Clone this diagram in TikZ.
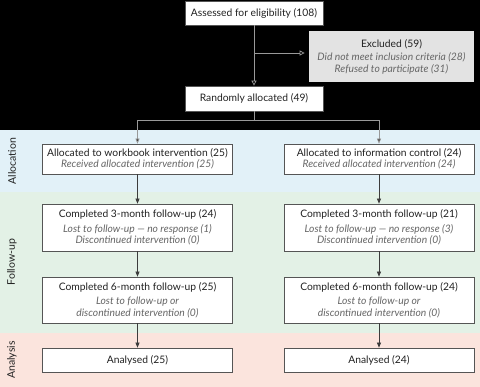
\documentclass[tikz,border=0pt]{standalone}
\usepackage{fontspec}
\setmainfont{Lato}
\usepackage{xcolor}
\usepackage{tikz}
\usetikzlibrary{arrows.meta,positioning,calc}

\definecolor{bandblue}{HTML}{E2F1F8}
\definecolor{bandgreen}{HTML}{E3F1E6}
\definecolor{bandpink}{HTML}{FBE4DD}
\definecolor{exclgray}{HTML}{E3E3E3}
\definecolor{boxline}{HTML}{555555}
\definecolor{txtmain}{HTML}{222222}
\definecolor{txtsub}{HTML}{666666}

\begin{document}
\begin{tikzpicture}[x=1pt,y=-1pt,>={Triangle[length=5pt,width=4pt]},
  stagebox/.style={draw=boxline,fill=white,line width=0.7pt,inner sep=2pt,align=center,
    font=\fontsize{10.3}{11.5}\selectfont,text=txtmain},
  bandlabel/.style={rotate=90,font=\fontsize{10.5}{12}\selectfont,text=txtmain},
  toparrow/.style={draw=gray!80,line width=0.7pt,-{Triangle[open,length=5pt,width=5pt]},color=gray!80},
  lowarrow/.style={draw=boxline!70!black,line width=0.7pt,->}]
  \useasboundingbox (0,0) rectangle (480,387);
  % stage bands
  \fill[black] (0,0) rectangle (480,130);
  \fill[bandblue] (0,130) rectangle (480,192);
  \fill[bandgreen] (0,192) rectangle (480,333);
  \fill[bandpink] (0,333) rectangle (480,387);
  \node[bandlabel] (lblalloc) at (12,161) {Allocation};
  \node[bandlabel] (lblfollow) at (12,262) {Follow-up};
  \node[bandlabel] (lblanalysis) at (12,360) {Analysis};
  % enrolment
  \node[stagebox,minimum width=138pt,minimum height=24pt] (assess) at (254,13) {Assessed for eligibility (108)};
  \node[stagebox,draw=none,fill=exclgray,minimum width=165pt,minimum height=51pt] (excl) at (391.5,56.5)
    {Excluded (59)\\[2pt]\color{txtsub}\itshape Did not meet inclusion criteria (28)\\\color{txtsub}\itshape Refused to participate (31)};
  \node[stagebox,minimum width=138pt,minimum height=25pt] (rand) at (254,98.5) {Randomly allocated (49)};
  % two arms
  \foreach \arm/\cx/\grp/\nr/\nf/\lost/\nsix/\nan in
    {a/137.5/workbook intervention/25/24/1/25/25,b/379/information control/24/21/3/24/24}{
    \node[stagebox,minimum width=190pt,minimum height=30pt] (alloc\arm) at (\cx,159)
      {Allocated to \grp\ (\nr)\\\color{txtsub}\itshape Received allocated intervention (\nr)};
    \node[stagebox,minimum width=190pt,minimum height=47pt] (futhree\arm) at (\cx,227.5)
      {Completed 3-month follow-up (\nf)\\[3pt]\color{txtsub}\itshape Lost to follow-up --- no response (\lost)\\\color{txtsub}\itshape Discontinued intervention (0)};
    \node[stagebox,minimum width=190pt,minimum height=46pt] (fusix\arm) at (\cx,300)
      {Completed 6-month follow-up (\nsix)\\[3pt]\color{txtsub}\itshape Lost to follow-up or\\\color{txtsub}\itshape discontinued intervention (0)};
    \node[stagebox,minimum width=190pt,minimum height=24pt] (anal\arm) at (\cx,360) {Analysed (\nan)};
    \draw[lowarrow] (alloc\arm) -- (futhree\arm);
    \draw[lowarrow] (futhree\arm) -- (fusix\arm);
    \draw[lowarrow] (fusix\arm) -- (anal\arm);
  }
  % connectors in the top part
  \coordinate (branch) at (assess.south |- 0,53);
  \coordinate (fork) at (rand.south |- 0,120);
  \draw[toparrow] (assess) -- (rand);
  \draw[toparrow,shorten >=4pt] (branch) -- (excl.west |- branch);
  \draw[draw=gray!80,line width=0.7pt] (rand) -- (fork);
  \draw[draw=gray!80,line width=0.7pt,-{Triangle[length=5pt,width=4pt,fill=boxline!70!black]}] (fork) -| (alloca.north);
  \draw[draw=gray!80,line width=0.7pt,-{Triangle[length=5pt,width=4pt,fill=boxline!70!black]}] (fork) -| (allocb.north);
\end{tikzpicture}
\end{document}
